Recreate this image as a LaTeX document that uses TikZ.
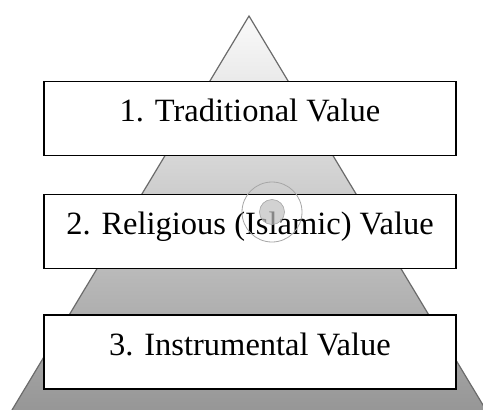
\documentclass[tikz,border=0pt]{standalone}
\usepackage{fontspec}
\setmainfont{Liberation Serif}
\begin{document}
\begin{tikzpicture}[x=1pt,y=-1pt,
  levelbox/.style={draw=black, line width=1.3pt, fill=white, minimum width=412pt, minimum height=74pt, inner sep=0pt, text height=22pt, text depth=16pt, font=\fontsize{32.5}{36}\selectfont},
]
\useasboundingbox (0,0) rectangle (483,410);
\begin{scope}
\clip (0,0) rectangle (483,410);
\coordinate (apex) at (249,16);
\coordinate (bl) at (6,420);
\coordinate (br) at (492,420);
\path[draw=black!58, line width=1.2pt, top color=black!2, bottom color=black!42] (apex) -- (bl) -- (br) -- cycle;
\end{scope}
\node[levelbox] (l1) at (250,118.5) {1. Traditional Value};
\node[levelbox] (l2) at (250,231.5) {2. Religious (Islamic) Value};
\node[levelbox] (l3) at (250,352) {3. Instrumental Value};
\node[circle, draw=black!35, line width=0.8pt, minimum size=60pt, inner sep=0pt] (ring) at (272,212) {};
\node[circle, draw=black!35, fill=black!25, fill opacity=0.7, line width=0.6pt, minimum size=25pt, inner sep=0pt] (dot) at (ring.center) {};
\end{tikzpicture}
\end{document}
